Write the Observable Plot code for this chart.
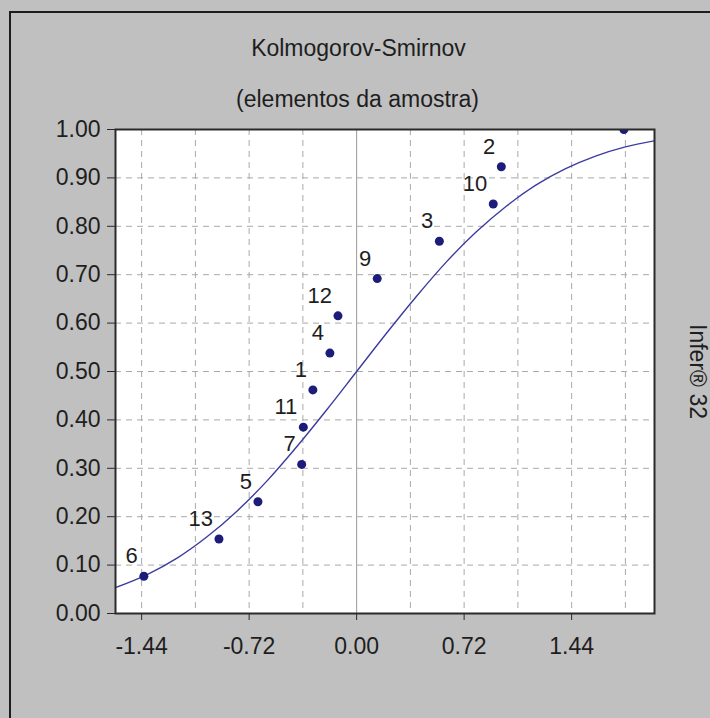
<!DOCTYPE html>
<html>
<head>
<meta charset="utf-8">
<script src="https://cdn.jsdelivr.net/npm/d3@7"></script>
<script src="https://cdn.jsdelivr.net/npm/@observablehq/plot@0.6"></script>
<style>
  html, body { margin: 0; padding: 0; background: #c0c0c0; }
  #panel { position: relative; width: 710px; height: 718px; background: #c0c0c0; overflow: hidden; }
  #edge { position: absolute; left: 9px; top: 11px; right: -10px; bottom: -10px;
          border-left: 2px solid #1c1c1c; border-top: 2px solid #1c1c1c; }
  #panel svg { position: absolute; left: 0; top: 0; }
</style>
</head>
<body>
<div id="panel"><div id="edge"></div></div>
<script>
// Titles
const title = "Kolmogorov-Smirnov";
const subtitle = "(elementos da amostra)";
const sideNote = "Infer® 32";

// Axis ticks and grid positions
const xTicks = [-1.44, -0.72, 0, 0.72, 1.44];
const xGrid = [-1.44, -1.08, -0.72, -0.36, 0.36, 0.72, 1.08, 1.44, 1.80];
const yTicks = [0, 0.1, 0.2, 0.3, 0.4, 0.5, 0.6, 0.7, 0.8, 0.9, 1.0];

// Sample elements: standardized value and empirical cumulative frequency
const elements = ["6", "13", "5", "7", "11", "1", "4", "12", "9", "3", "10", "2", "8"];
const zScores = [-1.425, -0.922, -0.661, -0.368, -0.357, -0.293, -0.179, -0.125, 0.138, 0.554, 0.915, 0.969, 1.79];
const empirical = [0.077, 0.154, 0.231, 0.308, 0.385, 0.462, 0.538, 0.615, 0.692, 0.769, 0.846, 0.923, 1.0];

// Theoretical cumulative curve
const curveX = [-1.62, -1.4, -1.2, -1.0, -0.8, -0.6, -0.4, -0.2, 0, 0.2, 0.4, 0.6, 0.8, 1.0, 1.2, 1.4, 1.6, 1.8, 2.0];
const curveY = [0.053, 0.081, 0.115, 0.159, 0.212, 0.274, 0.345, 0.421, 0.5, 0.579, 0.655, 0.726, 0.788, 0.841, 0.885, 0.919, 0.945, 0.964, 0.977];

const points = elements.map((e, i) => ({label: e, x: zScores[i], y: empirical[i]}));
const curve = curveX.map((x, i) => ({x, y: curveY[i]}));

const fmt = d => d.toFixed(2);
const font = "'Liberation Sans', Arial, sans-serif";
const ink = "#1e1e1e";

const chart = Plot.plot({
  width: 710,
  height: 718,
  marginTop: 129,
  marginLeft: 115,
  marginRight: 56,
  marginBottom: 105,
  style: {background: "transparent", fontFamily: font, fontSize: "23px", color: ink, overflow: "visible"},
  x: {domain: [-1.615, 1.995]},
  y: {domain: [0, 1]},
  marks: [
    Plot.frame({fill: "white", stroke: "none"}),
    Plot.ruleY(yTicks.slice(1, -1), {stroke: "#a9a9a9", strokeDasharray: "6,5", strokeWidth: 1}),
    Plot.ruleX(xGrid, {stroke: "#a9a9a9", strokeDasharray: "6,5", strokeWidth: 1}),
    Plot.ruleX([0], {stroke: "#9a9a9a", strokeWidth: 1}),
    Plot.line(curve, {x: "x", y: "y", stroke: "#3c3ca0", strokeWidth: 1.4, curve: "monotone-x", clip: true}),
    Plot.dot(points, {x: "x", y: "y", r: 4.5, fill: "#1c1c7a", stroke: "none", clip: true}),
    Plot.text(points, {x: "x", y: "y", text: "label", textAnchor: "end", dx: -6, dy: -20,
                       fontSize: 22, fill: ink, clip: true}),
    Plot.frame({stroke: "#2a2a2a", strokeWidth: 2}),
    Plot.axisY({ticks: yTicks, tickFormat: fmt, tickSize: 8, tickPadding: 7, fontSize: 23, label: null, stroke: "#2a2a2a"}),
    Plot.axisX({ticks: xTicks, tickFormat: fmt, tickSize: 7, tickPadding: 17, fontSize: 23, label: null, stroke: "#2a2a2a"}),
    Plot.text([title], {frameAnchor: "top-left", dx: 243, dy: -81, textAnchor: "middle", lineAnchor: "middle",
                        fontSize: 23, fill: ink}),
    Plot.text([subtitle], {frameAnchor: "top-left", dx: 242, dy: -30, textAnchor: "middle", lineAnchor: "middle",
                           fontSize: 23, fill: ink}),
    Plot.text([sideNote], {frameAnchor: "right", dx: 43, dy: 0, rotate: 90, textAnchor: "middle", lineAnchor: "middle",
                           fontSize: 23, fill: ink})
  ]
});

document.getElementById("panel").appendChild(chart);
</script>
</body>
</html>
